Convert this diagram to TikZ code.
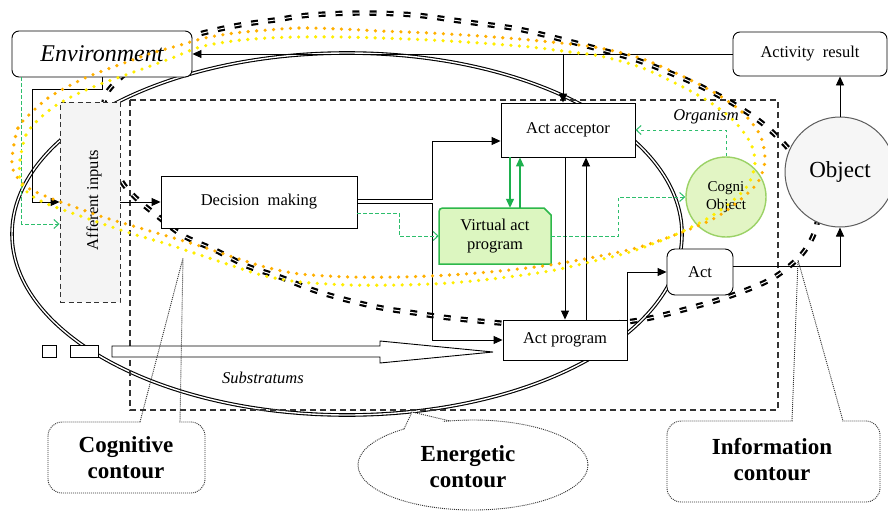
\documentclass[tikz,border=0pt]{standalone}
\usepackage{fontspec}
\setmainfont{Liberation Serif}
\usetikzlibrary{arrows.meta,calc}
\definecolor{gdash}{HTML}{2DBE6C}
\definecolor{gsolid}{HTML}{1DB04E}
\definecolor{vfill}{HTML}{DCF6C0}
\definecolor{vline}{HTML}{2DB84A}
\definecolor{cfill}{HTML}{E2F5C4}
\definecolor{cbord}{HTML}{9BD266}
\definecolor{dotor}{HTML}{FFB000}
\definecolor{dotye}{HTML}{FFEE00}
\definecolor{darkg}{HTML}{333333}
\definecolor{affill}{HTML}{F4F4F4}
\definecolor{objfill}{HTML}{F6F6F6}
\newcommand\tnorm{\fontsize{16.5}{19}\selectfont}
\newcommand\tbig{\fontsize{23}{26}\selectfont}
\begin{document}
\begin{tikzpicture}[x=1pt,y=-1pt,
 box/.style={draw=black,line width=0.9pt,fill=white,inner sep=0pt,font=\tnorm},
 rbox/.style={box,rounded corners=7pt},
 arr/.style={draw=black,line width=0.9pt,-{Triangle[length=9pt,width=8pt]}},
 garr/.style={draw=gsolid,line width=1.3pt,-{Triangle[length=9pt,width=8pt]}},
 gd/.style={draw=gdash,line width=1pt,dash pattern=on 3.5pt off 2.5pt,-{Straight Barb[length=5pt,width=9pt]}},
 orgdash/.style={draw=darkg,line width=1.1pt,dash pattern=on 6pt off 4pt},
 dbl/.style={draw=black,line width=1.1pt,double=white,double distance=1.4pt},
 bdash/.style={draw=black,line width=2.2pt,double=white,double distance=1pt,dash pattern=on 7pt off 10pt},
 dots/.style={line width=3.6pt,line cap=round,dash pattern=on 0pt off 8.5pt},
 callout/.style={draw=darkg,line width=0.9pt,dash pattern=on 1pt off 1pt,fill=white},
 ptrline/.style={draw=darkg,line width=0.9pt,dash pattern=on 1pt off 1pt},
]
\useasboundingbox (0,0) rectangle (888,511);
\fill[white] (0,0) rectangle (888,511);

% energetic contour (double ellipse)
\draw[dbl] (347,234) ellipse [x radius=335pt, y radius=181pt];
% organism
\draw[orgdash] (130,100) rectangle (778,410);
\node[font=\tnorm\itshape] (orgl) at (706,117) {Organism};
% information contour (thick dashed)
\draw[bdash] plot[smooth cycle, tension=0.55] coordinates {
(115,83) (140,62) (172,43) (203,33) (240,25) (275,20) (310,15) (362,13) (415,15)
(467,22) (518,29) (568,41) (602,50) (637,60) (668,72) (700,86) (732,103) (762,123)
(787,147) (806,172) (817,200) (816,228) (802,254) (773,278) (733,295) (690,308)
(640,320) (590,325) (540,326) (500,323) (450,318) (415,313) (382,308) (347,300)
(313,290) (280,277) (247,266) (215,250) (182,235) (155,214) (138,200) (122,182)
(110,155) (103,125) (105,98)};

% boxes
\node[rbox, minimum width=180pt, minimum height=46pt, font=\fontsize{24}{26}\selectfont\itshape] (env) at (102,54) {Environment};
\node[rbox, minimum width=154pt, minimum height=44pt] (res) at (810,54) {Activity~~result};
\node[draw=darkg, line width=0.9pt, dash pattern=on 5pt off 3.5pt, fill=affill, minimum width=60pt, minimum height=200pt, inner sep=0pt] (aff) at (90,202) {};
\node[rotate=90, font=\tnorm] (afft) at (94,200) {Afferent inputs};
\node[box, minimum width=196pt, minimum height=52pt] (dec) at (259,202) {Decision~~making};
\node[box, minimum width=134pt, minimum height=54pt] (acc) at (568,130) {Act acceptor};
\node[box, minimum width=124pt, minimum height=40pt] (prog) at (565,340) {Act program};
\draw[draw=vline, line width=1.5pt, fill=vfill] (439,264) -- (439,216) .. controls (439,208) .. (447,208) -- (544,208) -- (551,215) -- (551,264) -- cycle;
\node[inner sep=0pt, minimum width=112pt, minimum height=56pt, align=center, font=\tnorm] (virt) at (495,236) {Virtual act\\program};
\node[circle, draw=cbord, line width=1.4pt, fill=cfill, minimum size=80pt, inner sep=0pt, align=center, font=\fontsize{15}{18}\selectfont] (cog) at (726,197) {Cogni\\Object};
\node[box, rounded corners=8pt, minimum width=66pt, minimum height=46pt] (act) at (700,272) {Act};
\node[circle, draw=darkg!80, line width=1pt, fill=objfill, minimum size=110pt, inner sep=0pt, font=\fontsize{23}{26}\selectfont] (obj) at (840,172) {Object};

% substratums
\draw[line width=0.9pt, fill=white] (42,345) rectangle (56,357);
\draw[line width=0.9pt, fill=white] (70,345) rectangle (98,357);
\draw[line width=0.9pt, fill=white] (112,346) -- (380,346) -- (380,341) -- (493,352) -- (380,363) -- (380,357) -- (112,357) -- cycle;
\node[font=\tnorm\itshape] (subl) at (263,378) {Substratums};

% connectors
\coordinate (acctop) at ([xshift=-5pt]acc.north);
\draw[arr] (res.west) -- (env.east);
\draw[arr] (acctop |- res.west) -- (acctop);
\draw[arr] (env.south) -- ++(0,12) -- ++(-70,0) |- (aff.west);
\draw[gd] ([xshift=10pt]env.south west) |- ([yshift=-22pt]aff.west);
\draw[arr] (aff.east) -- (dec.west);
\draw[arr] ([yshift=3pt]dec.east) -- ++(75,0) |- ([yshift=-11pt]acc.west);
\draw[arr] ([yshift=-1pt]dec.east) -- ++(75,0) |- (prog.west);
\draw[gd] ([yshift=-11pt]dec.east) -- ++(42,0) |- (virt.west);
\coordinate (g1) at ([xshift=-58pt]acc.south);
\coordinate (g2) at ([xshift=-48pt]acc.south);
\draw[garr] (g1) -- (g1 |- virt.north);
\draw[garr] (g2 |- virt.north) -- (g2);
\draw[gd] (virt.east) -- ++(67,0) |- (cog.west);
\draw[gd] (cog.north) |- (acc.east);
\coordinate (b1) at ([xshift=-3pt]acc.south);
\coordinate (b2) at ([xshift=18pt]acc.south);
\draw[arr] (b1) -- (b1 |- prog.north);
\draw[arr] (b2 |- prog.north) -- (b2);
\draw[arr] (prog.north east) |- (act.west);
\draw[arr] ([yshift=6pt]act.east) -| (obj.south);
\draw[arr] (obj.north) -- (obj.north |- res.south);

% cognitive contour (dotted)
\draw[dots, draw=dotor] plot[smooth cycle] coordinates {
(12,158) (18,128) (32,112) (48,98) (65,88) (85,78) (105,70) (127,62) (152,53) (177,46)
(205,38) (235,33) (268,30) (300,28) (340,29) (380,31) (430,33) (480,36) (530,40)
(570,44) (600,48) (640,58) (680,75) (715,93) (742,112) (760,135) (765,160) (758,182)
(740,200) (715,218) (680,233) (640,247) (600,256) (550,265) (500,271) (450,275)
(400,277) (350,277) (300,274) (265,267) (233,257) (200,246) (167,236) (133,226)
(103,217) (72,206) (45,196) (25,186) (14,172)};
\draw[dots, draw=dotye] plot[smooth cycle] coordinates {
(20,160) (26,135) (38,120) (55,106) (75,95) (98,85) (120,77) (145,68) (172,58) (200,47)
(233,41) (268,38) (300,37) (340,37) (380,38) (430,40) (480,43) (530,47) (570,52)
(600,56) (640,67) (675,83) (708,101) (733,120) (750,142) (755,163) (748,185) (730,203)
(705,220) (670,237) (630,252) (590,262) (550,271) (500,278) (450,283) (400,285)
(350,285) (300,282) (265,276) (233,266) (200,255) (167,244) (133,234) (103,224)
(72,213) (45,203) (28,193) (20,180)};

% callouts
\draw[callout, rounded corners=14pt] (48,422) rectangle (205,493);
\fill[white] (141,419) rectangle (179,425);
\draw[ptrline] (140,422) -- (183,258) -- (180,422);
\node[font=\tbig\bfseries, align=center] (cogt) at (126,458) {Cognitive\\contour};

\draw[callout] (473,465) ellipse [x radius=115pt, y radius=45pt];
\fill[white] (404,431) -- (412,412) -- (450,423.5) -- cycle;
\draw[ptrline] (404,429) -- (412,412) -- (450,421);
\node[font=\tbig\bfseries, align=center] (enet) at (468,467) {Energetic\\contour};

\draw[callout, rounded corners=14pt] (667,421) rectangle (880,502);
\fill[white] (793,418) rectangle (842,424);
\draw[ptrline] (792,421) -- (798,260) -- (843,421);
\node[font=\tbig\bfseries, align=center] (inft) at (772,460) {Information\\contour};
\end{tikzpicture}
\end{document}
